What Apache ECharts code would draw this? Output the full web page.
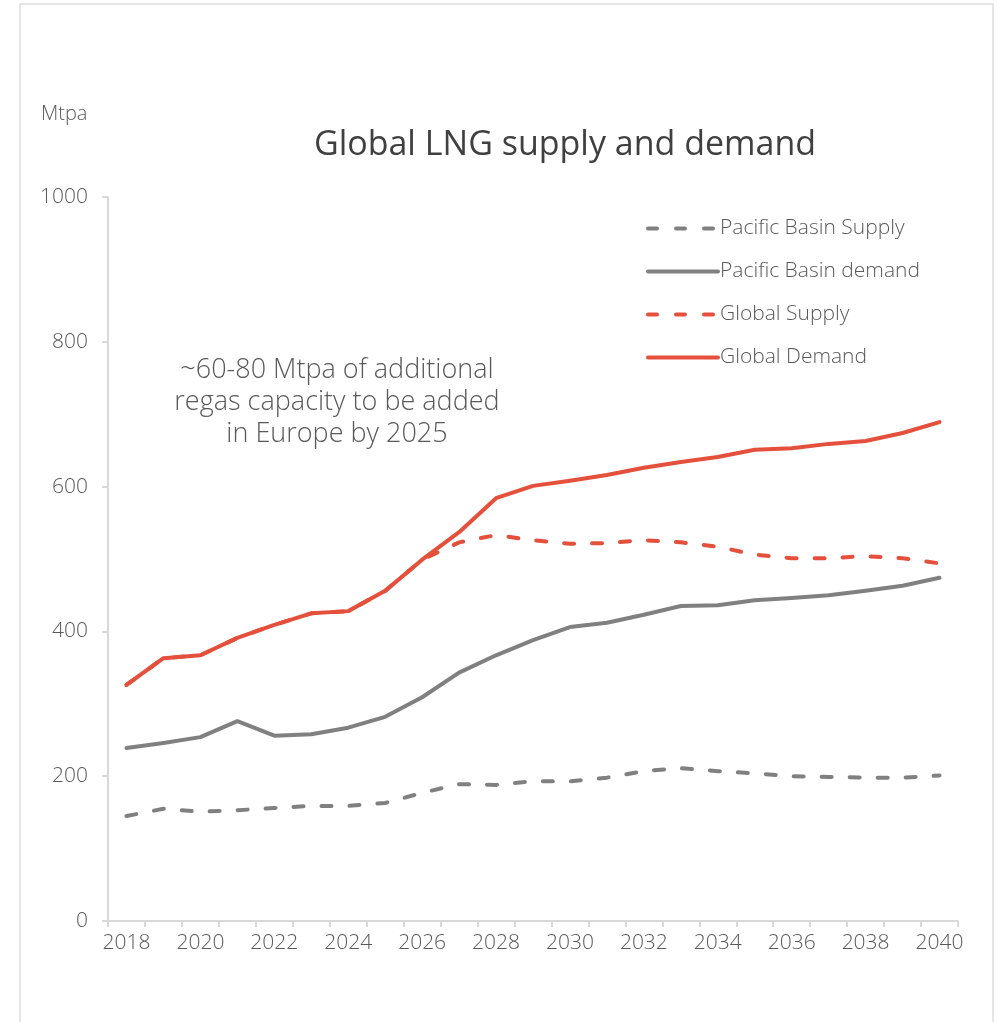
<!DOCTYPE html>
<html>
<head>
<meta charset="utf-8">
<title>Global LNG supply and demand</title>
<script src="https://cdn.jsdelivr.net/npm/echarts@6/dist/echarts.min.js"></script>
<style>
  html, body { margin: 0; padding: 0; background: #fff; }
  #frame {
    position: absolute; left: 19px; top: 3px; width: 971px; height: 1030px;
    border: 2px solid #e6e6e6; border-bottom: none;
  }
  #chart { position: absolute; left: 0; top: 0; width: 1000px; height: 1022px; }
</style>
</head>
<body>
<div id="frame"></div>
<div id="chart"></div>
<script>
const years = ['2018', '2019', '2020', '2021', '2022', '2023', '2024', '2025', '2026', '2027', '2028',
  '2029', '2030', '2031', '2032', '2033', '2034', '2035', '2036', '2037', '2038', '2039', '2040'];

const pacificSupply = [145, 155, 151, 153, 156, 159, 159, 163, 177, 189, 188,
  193, 193, 198, 207, 211, 207, 204, 200, 199, 198, 198, 201];
const pacificDemand = [239, 246, 254, 276, 256, 258, 267, 282, 309, 343, 367,
  388, 406, 412, 423, 435, 436, 443, 446, 450, 456, 463, 474];
const globalSupply = [326, 363, 367, 391, 409, 425, 428, 456, 499, 523, 533,
  526, 521, 522, 526, 523, 517, 506, 501, 501, 504, 501, 494];
const globalDemand = [326, 363, 367, 391, 409, 425, 428, 456, 499, 537, 584,
  601, 608, 616, 626, 634, 641, 651, 653, 659, 663, 674, 689];

const yTicks = { min: 0, max: 1000, interval: 200 };

const red = '#e4503c';
const grey = '#808080';
const textCol = '#595959';
const font = '"Open Sans", Lato, sans-serif';
const dash = [10, 18];

const chart = echarts.init(document.getElementById('chart'));

function lineSeries(name, data, color, dashed, z) {
  return {
    name: name,
    type: 'line',
    data: data,
    symbol: 'none',
    z: z,
    lineStyle: {
      color: color,
      width: 4,
      type: dashed ? dash : 'solid',
      cap: 'round',
      join: 'round'
    },
    itemStyle: { color: color }
  };
}

function legendItem(name, color, dashed) {
  return {
    name: name,
    itemStyle: { opacity: 0 },
    lineStyle: { color: color, width: 4, type: dashed ? [9, 19] : 'solid', cap: 'round', opacity: 1 }
  };
}

const option = {
  animation: false,
  textStyle: { fontFamily: font },
  title: {
    text: 'Global LNG supply and demand',
    left: 560,
    top: 123,
    textAlign: 'center',
    textStyle: { fontSize: 34, fontWeight: 500, color: '#404040', fontFamily: font }
  },
  legend: {
    orient: 'vertical',
    left: 641,
    top: 211,
    itemWidth: 70,
    itemHeight: 14,
    itemGap: 18,
    data: [
      legendItem('Pacific Basin Supply', grey, true),
      legendItem('Pacific Basin demand', grey, false),
      legendItem('Global Supply', red, true),
      legendItem('Global Demand', red, false)
    ],
    textStyle: { fontSize: 21, color: textCol, fontFamily: font, fontWeight: 300, lineHeight: 25, padding: [0, 0, 0, -3] }
  },
  grid: { left: 108, right: 42, top: 197, bottom: 101 },
  graphic: [
    {
      type: 'text',
      left: 41,
      top: 104,
      style: { text: 'Mtpa', fontSize: 20, fill: textCol, fontFamily: font, fontWeight: 300 }
    },
    {
      type: 'text',
      x: 337,
      y: 354,
      style: {
        text: '~60-80 Mtpa of additional\nregas capacity to be added\nin Europe by 2025',
        fontSize: 27,
        lineHeight: 32,
        fill: textCol,
        fontFamily: font,
        fontWeight: 300,
        align: 'center',
        verticalAlign: 'top'
      }
    }
  ],
  xAxis: {
    type: 'category',
    data: years,
    boundaryGap: true,
    axisLine: { lineStyle: { color: '#d9d9d9', width: 2 } },
    axisTick: { show: true, interval: 0, length: 6, lineStyle: { color: '#d9d9d9', width: 2 } },
    axisLabel: { interval: 1, margin: 12, fontSize: 21, color: textCol, fontFamily: font, fontWeight: 300 }
  },
  yAxis: {
    type: 'value',
    min: yTicks.min,
    max: yTicks.max,
    interval: yTicks.interval,
    splitLine: { show: false },
    axisLine: { show: true, lineStyle: { color: '#d9d9d9', width: 2 } },
    axisTick: { show: true, length: 6, lineStyle: { color: '#d9d9d9', width: 2 } },
    axisLabel: {
      margin: 20, fontSize: 21, color: textCol, fontFamily: font, fontWeight: 300,
      formatter: function (v) { return String(v); }
    }
  },
  series: [
    lineSeries('Pacific Basin Supply', pacificSupply, grey, true, 2),
    lineSeries('Pacific Basin demand', pacificDemand, grey, false, 3),
    lineSeries('Global Supply', globalSupply, red, true, 4),
    lineSeries('Global Demand', globalDemand, red, false, 5)
  ]
};

chart.setOption(option);
</script>
</body>
</html>
